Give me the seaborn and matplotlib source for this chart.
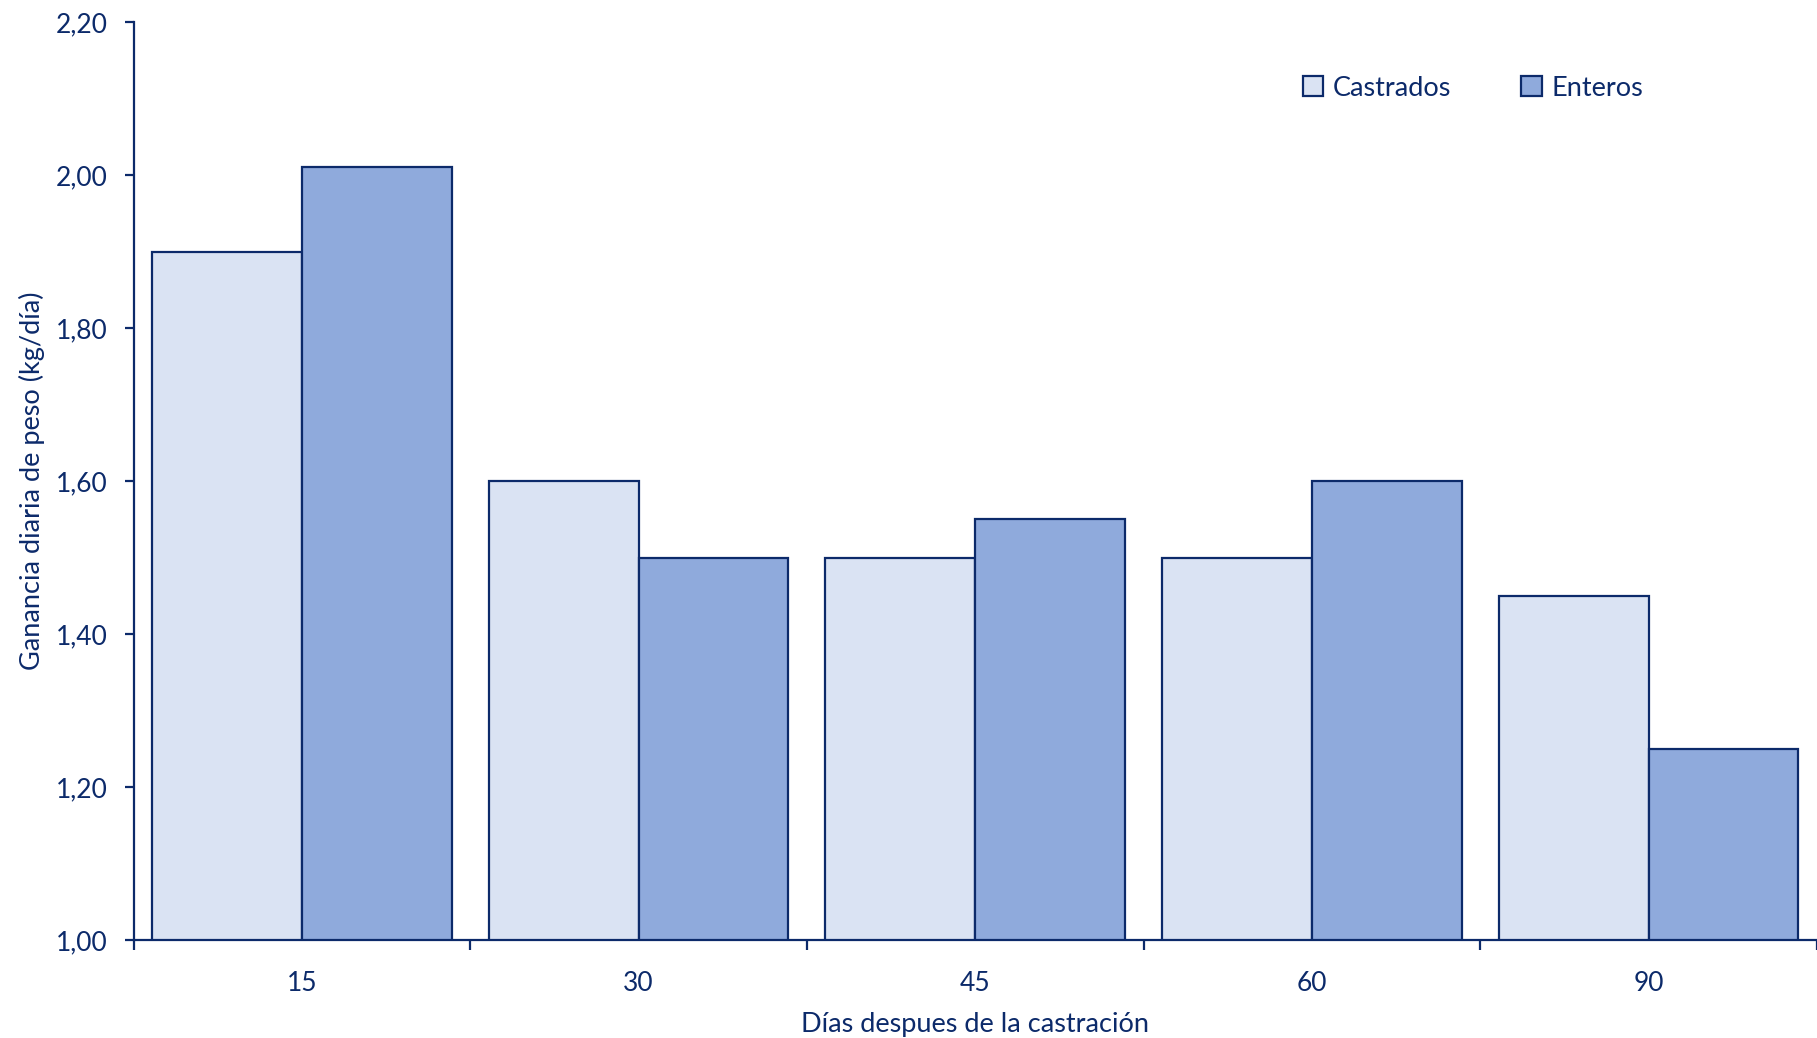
import matplotlib
matplotlib.use("Agg")
import matplotlib.pyplot as plt
import pandas as pd
import seaborn as sns
from matplotlib.ticker import FixedLocator, FuncFormatter

dias = ["15", "30", "45", "60", "90"]
castrados = [1.90, 1.60, 1.50, 1.50, 1.45]
enteros = [2.01, 1.50, 1.55, 1.60, 1.25]
grupos = ["Castrados", "Enteros"]
y_ticks = [1.00, 1.20, 1.40, 1.60, 1.80, 2.00, 2.20]

navy = "#0C2A6A"
colores = ["#DAE3F3", "#8FAADC"]

df = pd.DataFrame({
    "dia": dias * 2,
    "valor": castrados + enteros,
    "grupo": [grupos[0]] * len(dias) + [grupos[1]] * len(dias),
})

sns.set_theme(style="white")
plt.rcParams["font.family"] = ["Lato", "DejaVu Sans"]

fig = plt.figure(figsize=(18.17, 10.38), dpi=100)
ax = fig.add_axes([0.0735, 0.0944, 0.9265, 0.8844])

sns.barplot(
    data=df, x="dia", y="valor", hue="grupo", order=dias, hue_order=grupos,
    palette=colores, width=0.89, gap=0, edgecolor=navy, linewidth=1.6,
    saturation=1, ax=ax,
)

ax.set_xlim(-0.5, len(dias) - 0.5)
ax.set_ylim(1.0, 2.2)
ax.set_yticks(y_ticks)
ax.yaxis.set_major_formatter(FuncFormatter(lambda v, p: f"{v:.2f}".replace(".", ",")))

# category labels centred, ticks at category boundaries
ax.xaxis.set_minor_locator(FixedLocator([i - 0.5 for i in range(len(dias) + 1)]))
ax.tick_params(axis="x", which="major", length=0, pad=22, labelsize=19, labelcolor=navy)
ax.tick_params(axis="x", which="minor", bottom=True, length=7, width=1.6, color=navy)
ax.tick_params(axis="y", left=True, length=6.5, width=1.6, color=navy, pad=12,
               labelsize=19, labelcolor=navy)

for side in ["top", "right"]:
    ax.spines[side].set_visible(False)
for side in ["left", "bottom"]:
    ax.spines[side].set_color(navy)
    ax.spines[side].set_linewidth(1.6)

ax.set_xlabel("Días despues de la castración", fontsize=19.5, color=navy, labelpad=12)
ax.set_ylabel("Ganancia diaria de peso (kg/día)", fontsize=19.5, color=navy, labelpad=8)

leg = ax.legend(
    loc="upper left", bbox_to_anchor=(0.68, 0.968), ncol=2, frameon=False,
    fontsize=19.5, handlelength=0.75, handleheight=0.75, handletextpad=0.35,
    columnspacing=2.6, labelcolor=navy,
)
for h in leg.legend_handles:
    h.set_edgecolor(navy)
    h.set_linewidth(1.6)

fig.savefig("out.png", dpi=100)
plt.close(fig)
